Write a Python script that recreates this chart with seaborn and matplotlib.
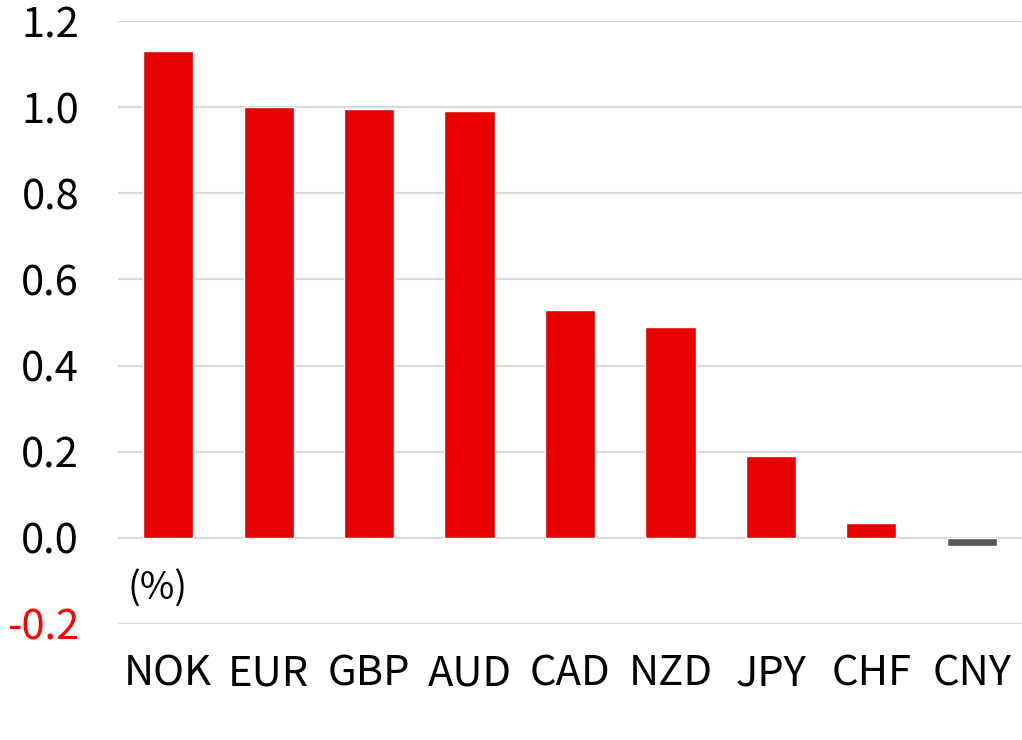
import matplotlib
matplotlib.use("Agg")
import matplotlib.pyplot as plt
import matplotlib.transforms as mtransforms
import seaborn as sns
import pandas as pd

currencies = ["NOK", "EUR", "GBP", "AUD", "CAD", "NZD", "JPY", "CHF", "CNY"]
values = [1.13, 1.0, 0.995, 0.99, 0.53, 0.49, 0.19, 0.035, -0.02]
yticks = [-0.2, 0.0, 0.2, 0.4, 0.6, 0.8, 1.0, 1.2]
ytick_labels = ["-0.2", "0.0", "0.2", "0.4", "0.6", "0.8", "1.0", "1.2"]
unit_label = "(%)"

sns.set_theme(style="white")
plt.rcParams["font.family"] = ["Noto Sans CJK KR", "DejaVu Sans"]

df = pd.DataFrame({"currency": currencies, "value": values})
palette = {c: ("#E60000" if v >= 0 else "#595959") for c, v in zip(currencies, values)}

fig = plt.figure(figsize=(10.22, 7.4), dpi=100)
ax = fig.add_axes([118 / 1022, (740 - 624) / 740, 1 - 118 / 1022, (624 - 21) / 740])

sns.barplot(data=df, x="currency", y="value", hue="currency", palette=palette,
            order=currencies, width=0.5, legend=False, ax=ax, saturation=1)

ax.set_ylim(-0.2, 1.2)
ax.set_xlim(-0.5, 8.5)
ax.set_yticks(yticks)
ax.set_yticklabels(ytick_labels)
ax.yaxis.grid(True, color="#D9D9D9", linewidth=1.5)
ax.set_axisbelow(True)
for s in ax.spines.values():
    s.set_visible(False)
ax.set_xlabel("")
ax.set_ylabel("")
ax.tick_params(axis="y", length=0, pad=28, labelsize=30, labelcolor="black")
ax.tick_params(axis="x", length=0, pad=21, labelsize=30, labelcolor="black")
for lab in ax.get_yticklabels():
    if lab.get_text().startswith("-"):
        lab.set_color("#FF0000")

trans = mtransforms.blended_transform_factory(ax.transAxes, ax.transData)
ax.text(0.011, -0.12, unit_label, transform=trans, fontsize=27,
        va="center", ha="left", color="black")

fig.savefig("out.png", dpi=100)
